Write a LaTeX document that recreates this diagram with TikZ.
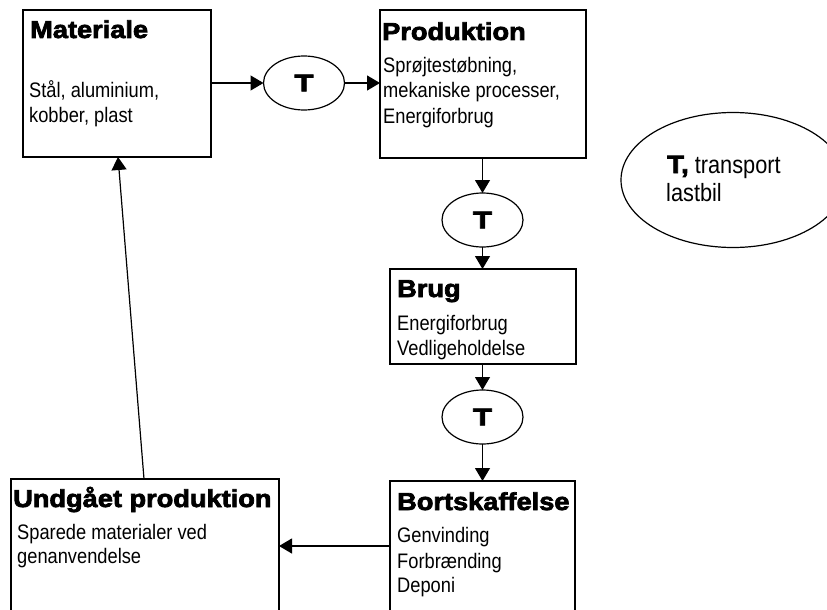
\documentclass[tikz,border=0pt]{standalone}
\usepackage{fontspec}
\setmainfont{Liberation Sans}[FakeStretch=0.87]
\newfontfamily\headfont{Liberation Sans Bold}[FakeBold=3,FakeStretch=1.11]
\newfontfamily\tfont{Liberation Sans Bold}[FakeBold=3,FakeStretch=1.3]
\usetikzlibrary{shapes.geometric,arrows.meta}

\begin{document}
\begin{tikzpicture}[x=1pt,y=-1pt,
  box/.style={draw, line width=1.2pt, rectangle, anchor=north west, inner sep=0pt, outer sep=0pt},
  tnode/.style={draw, ellipse, line width=1.2pt, minimum width=81pt, minimum height=54pt,
    inner sep=0pt, outer sep=0pt, font=\tfont\fontsize{24}{24}\selectfont},
  arr/.style={-{Triangle[length=13pt,width=15pt]}, line width=1.2pt},
  head/.style={anchor=base west, inner sep=0pt, font=\headfont\fontsize{24.5}{24.5}\selectfont},
  body/.style={anchor=base west, inner sep=0pt, font=\fontsize{21}{21}\selectfont},
  keytext/.style={anchor=base west, inner sep=0pt, font=\fontsize{25}{25}\selectfont}]
\useasboundingbox (0,0) rectangle (827,610);
\clip (0,0) rectangle (827,610);

% stage boxes
\node[box, minimum width=188pt, minimum height=147pt] (mat)  at (23,10)   {};
\node[box, minimum width=206pt, minimum height=148pt] (prod) at (380,10)  {};
\node[box, minimum width=186pt, minimum height=95pt]  (brug) at (390,269) {};
\node[box, minimum width=268pt, minimum height=150pt] (und)  at (11,479)  {};
\node[box, minimum width=185pt, minimum height=150pt] (bort) at (390,481) {};

% transport steps
\node[tnode] (t1) at (304,83)    {T};
\node[tnode] (t2) at (482.5,220) {T};
\node[tnode] (t3) at (482.5,417) {T};

% key
\node[draw, ellipse, line width=1.2pt, minimum width=224pt, minimum height=135pt, inner sep=0pt] (key) at (733,180) {};
\node[keytext] (keyA) at (667,173) {{\headfont\fontsize{25}{25}\selectfont T,} transport};
\node[keytext] (keyB) at (666,201) {lastbil};

% box texts
\node[head] (matH) at (30,38) {Materiale};
\node[body] (mat1) at (29,97)  {Stål, aluminium,};
\node[body] (mat2) at (29,122) {kobber, plast};

\node[head] (prodH) at (382,40) {Produktion};
\node[body] (prod1) at (383,72)  {Sprøjtestøbning,};
\node[body] (prod2) at (383,97)  {mekaniske processer,};
\node[body] (prod3) at (383,123) {Energiforbrug};

\node[head] (brugH) at (397,297) {Brug};
\node[body] (brug1) at (397,330) {Energiforbrug};
\node[body] (brug2) at (397,355) {Vedligeholdelse};

\node[head] (undH) at (13,507) {Undgået produktion};
\node[body] (und1) at (17,539) {Sparede materialer ved};
\node[body] (und2) at (17,563) {genanvendelse};

\node[head] (bortH) at (397,510) {Bortskaffelse};
\node[body] (bort1) at (397,542) {Genvinding};
\node[body] (bort2) at (397,568) {Forbrænding};
\node[body] (bort3) at (397,592) {Deponi};

% connectors
\draw[arr] (mat.east |- t1.west) -- (t1.west);
\draw[arr] (t1.east) -- (t1.east -| prod.west);
\draw[arr] (prod.south -| t2.north) -- (t2.north);
\draw[arr] (t2.south) -- (t2.south |- brug.north);
\draw[arr] (brug.south -| t3.north) -- (t3.north);
\draw[arr] (t3.south) -- (t3.south |- bort.north);
\coordinate (by) at (0,546);
\draw[arr] (bort.west |- by) -- (und.east |- by);
\coordinate (ux) at (144,0);
\coordinate (mx) at (118,0);
\draw[arr] (und.north -| ux) -- (mat.south -| mx);
\end{tikzpicture}
\end{document}
